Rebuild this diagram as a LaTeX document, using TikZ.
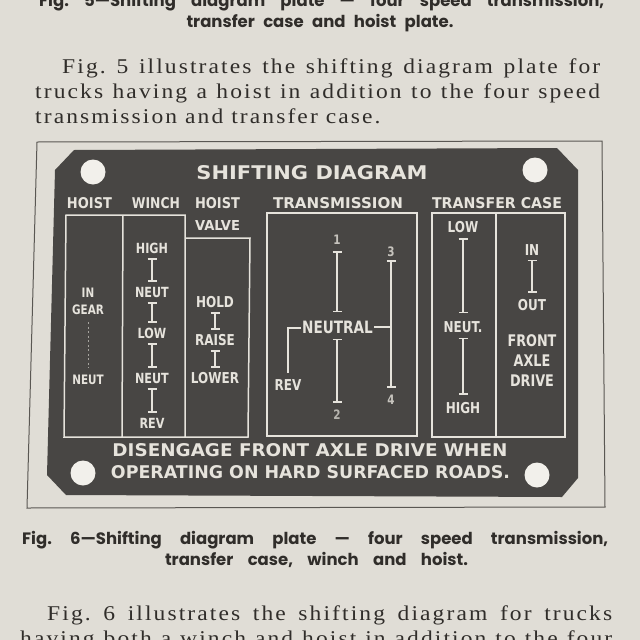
\documentclass[tikz,border=0pt]{standalone}
\usepackage{fontspec}
\usepackage{graphicx}
\usetikzlibrary{arrows.meta}
\setmainfont{Liberation Serif}[FakeStretch=1.12,LetterSpace=10]
\newfontfamily\platefont{DejaVu Sans}[FakeStretch=0.8]
\newfontfamily\capfont{Poppins}
\definecolor{pagePaper}{RGB}{224,221,214}
\definecolor{printInk}{RGB}{48,45,42}
\definecolor{frameGrey}{RGB}{90,87,83}
\definecolor{plateDark}{RGB}{72,70,68}
\definecolor{plateInk}{RGB}{230,227,220}
\definecolor{holeWhite}{RGB}{242,240,235}
\newcommand{\platefit}[3]{\resizebox{#1pt}{#2pt}{\platefont\bfseries #3}}
\newcommand{\psize}[1]{\platefont\bfseries\fontsize{#1}{#1}\selectfont}
\frenchspacing

\begin{document}
\begin{tikzpicture}[x=1pt,y=-1pt,
  plateline/.style={draw=plateInk,line width=1.5pt},
  ptext/.style={text=plateInk,inner sep=1pt,font=\psize{14}},
  ibar/.style={draw=plateInk,line width=1.7pt,{Bar[width=9pt]}-{Bar[width=9pt]},shorten <=4pt,shorten >=4pt},
  bodytext/.style={text=printInk,inner sep=0pt,anchor=base west,font=\fontsize{21}{25}\selectfont},
  captext/.style={text=printInk,inner sep=0pt,font=\capfont\bfseries\fontsize{16.5}{20}\selectfont}]
\fill[pagePaper] (0,0) rectangle (640,640);
\useasboundingbox (0,0) rectangle (640,640);
\node[captext,anchor=base west] (capFiveA) at (39,6) {\makebox[565pt][s]{Fig. 5—Shifting diagram plate — four speed transmission,}};
\node[captext,anchor=base] (capFiveB) at (320,27) {\makebox[267pt][s]{transfer case and hoist plate.}};
\node[bodytext] (paraA) at (62,73) {\makebox[538pt][s]{Fig. 5 illustrates the shifting diagram plate for}};
\node[bodytext] (paraB) at (35,98) {\makebox[565pt][s]{trucks having a hoist in addition to the four speed}};
\node[bodytext] (paraC) at (35,123) {transmission and transfer case.};
\draw[frameGrey,line width=1pt] (37,142) -- (602,141) -- (605,507) -- (27,508) -- cycle;
\fill[plateDark] (74,150) -- (557,148) -- (578,170) -- (578,478) -- (562,497) -- (66,495) -- (47,475) -- (55,170) -- cycle;
\foreach \hx/\hy in {93/172,535/170,83/473,537/475} \fill[holeWhite] (\hx,\hy) circle (12.5);
\node[ptext] (title) at (312,173) {\platefit{231}{14}{SHIFTING DIAGRAM}};
\node[ptext] (hdHoist) at (89.5,203) {\platefit{45}{11}{HOIST}};
\node[ptext] (hdWinch) at (156,203) {\platefit{48}{11}{WINCH}};
\node[ptext] (hdValveA) at (217.5,203) {\platefit{45}{11}{HOIST}};
\node[ptext] (hdValveB) at (217.5,225) {\platefit{45}{10}{VALVE}};
\node[ptext] (hdTrans) at (338,203) {\platefit{130}{11}{TRANSMISSION}};
\node[ptext] (hdTransfer) at (497,203) {\platefit{130}{11}{TRANSFER CASE}};
\draw[plateline] (185,238) -- (250,238) -- (248,437) -- (64,437) -- (66,215) -- (185,215) -- (185,437) (123,215) -- (122,437);
\draw[plateline] (267,213) rectangle (417,436);
\draw[plateline] (432,213) rectangle (565,437) (496,213) -- (496,437);
\node[ptext,font=\psize{13}] (hIn) at (88,293) {IN};
\node[ptext,font=\psize{13}] (hGear) at (88,310) {GEAR};
\node[ptext,font=\psize{13}] (hNeut) at (88,380) {NEUT};
\draw[plateInk,line width=0.9pt,opacity=0.6,dash pattern=on 2pt off 2.5pt,shorten <=6pt,shorten >=6pt] (hGear) -- (hNeut);
\node[ptext] (wHigh) at (152,248) {HIGH};
\node[ptext] (wNeutA) at (152,292) {NEUT};
\node[ptext] (wLow) at (152,333) {LOW};
\node[ptext] (wNeutB) at (152,378) {NEUT};
\node[ptext] (wRev) at (152,423) {REV};
\draw[ibar] (wHigh) -- (wNeutA);\draw[ibar] (wNeutA) -- (wLow);\draw[ibar] (wLow) -- (wNeutB);\draw[ibar] (wNeutB) -- (wRev);
\node[ptext,font=\psize{15}] (vHold) at (215,302) {HOLD};
\node[ptext,font=\psize{15}] (vRaise) at (215,340) {RAISE};
\node[ptext,font=\psize{15}] (vLower) at (215,378) {LOWER};
\draw[ibar,shorten <=3pt,shorten >=3pt] (vHold) -- (vRaise);\draw[ibar,shorten <=3pt,shorten >=3pt] (vRaise) -- (vLower);
\node[ptext,font=\psize{17}] (tNeutral) at (337.5,327) {NEUTRAL};
\node[ptext,font=\psize{13},opacity=0.8] (tOne) at (337,240) {1};
\node[ptext,font=\psize{13},opacity=0.7] (tTwo) at (337,415) {2};
\node[ptext,font=\psize{13},opacity=0.8] (tThree) at (391,252) {3};
\node[ptext,font=\psize{13},opacity=0.8] (tFour) at (391,400) {4};
\node[ptext,font=\psize{15}] (tRev) at (288,385) {REV};
\draw[ibar,shorten <=5pt,shorten >=7pt] (tOne) -- (tOne |- tNeutral.north);
\draw[ibar,shorten <=4pt,shorten >=6pt] (tOne |- tNeutral.south) -- (tTwo);
\draw[ibar,shorten <=2pt,shorten >=6pt] (tThree) -- (tFour);
\draw[plateline] (tNeutral.east) -- (tNeutral.east -| tThree);
\draw[plateline,shorten >=5pt] ([yshift=-1pt]tNeutral.west) -| (tRev.north);
\node[ptext,font=\psize{15}] (xLow) at (463,227) {LOW};
\node[ptext,font=\psize{15}] (xNeut) at (463,327) {NEUT.};
\node[ptext,font=\psize{15}] (xHigh) at (463,408) {HIGH};
\draw[ibar,shorten >=7pt] (xLow) -- (xNeut);\draw[ibar,shorten >=6pt] (xNeut) -- (xHigh);
\node[ptext,font=\psize{15}] (fIn) at (532,250) {IN};
\node[ptext,font=\psize{15}] (fOut) at (532,305) {OUT};
\draw[ibar,shorten <=3pt,shorten >=5pt] (fIn) -- (fOut);
\node[ptext,font=\psize{16},align=center] (fFront) at (532,361) {FRONT\\[4pt]AXLE\\[4pt]DRIVE};
\node[ptext] (noteA) at (310,450) {\platefit{395}{13}{DISENGAGE FRONT AXLE DRIVE WHEN}};
\node[ptext] (noteB) at (310.5,472) {\platefit{399}{13}{OPERATING ON HARD SURFACED ROADS.}};
\node[captext,anchor=base west] (capSixA) at (22,544) {\makebox[586pt][s]{Fig. 6—Shifting diagram plate — four speed transmission,}};
\node[captext,anchor=base] (capSixB) at (316.5,565) {\makebox[303pt][s]{transfer case, winch and hoist.}};
\node[bodytext] (paraD) at (47,620) {\makebox[565pt][s]{Fig. 6 illustrates the shifting diagram for trucks}};
\node[bodytext] (paraE) at (20,645) {\makebox[592pt][s]{having both a winch and hoist in addition to the four}};
\end{tikzpicture}
\end{document}
